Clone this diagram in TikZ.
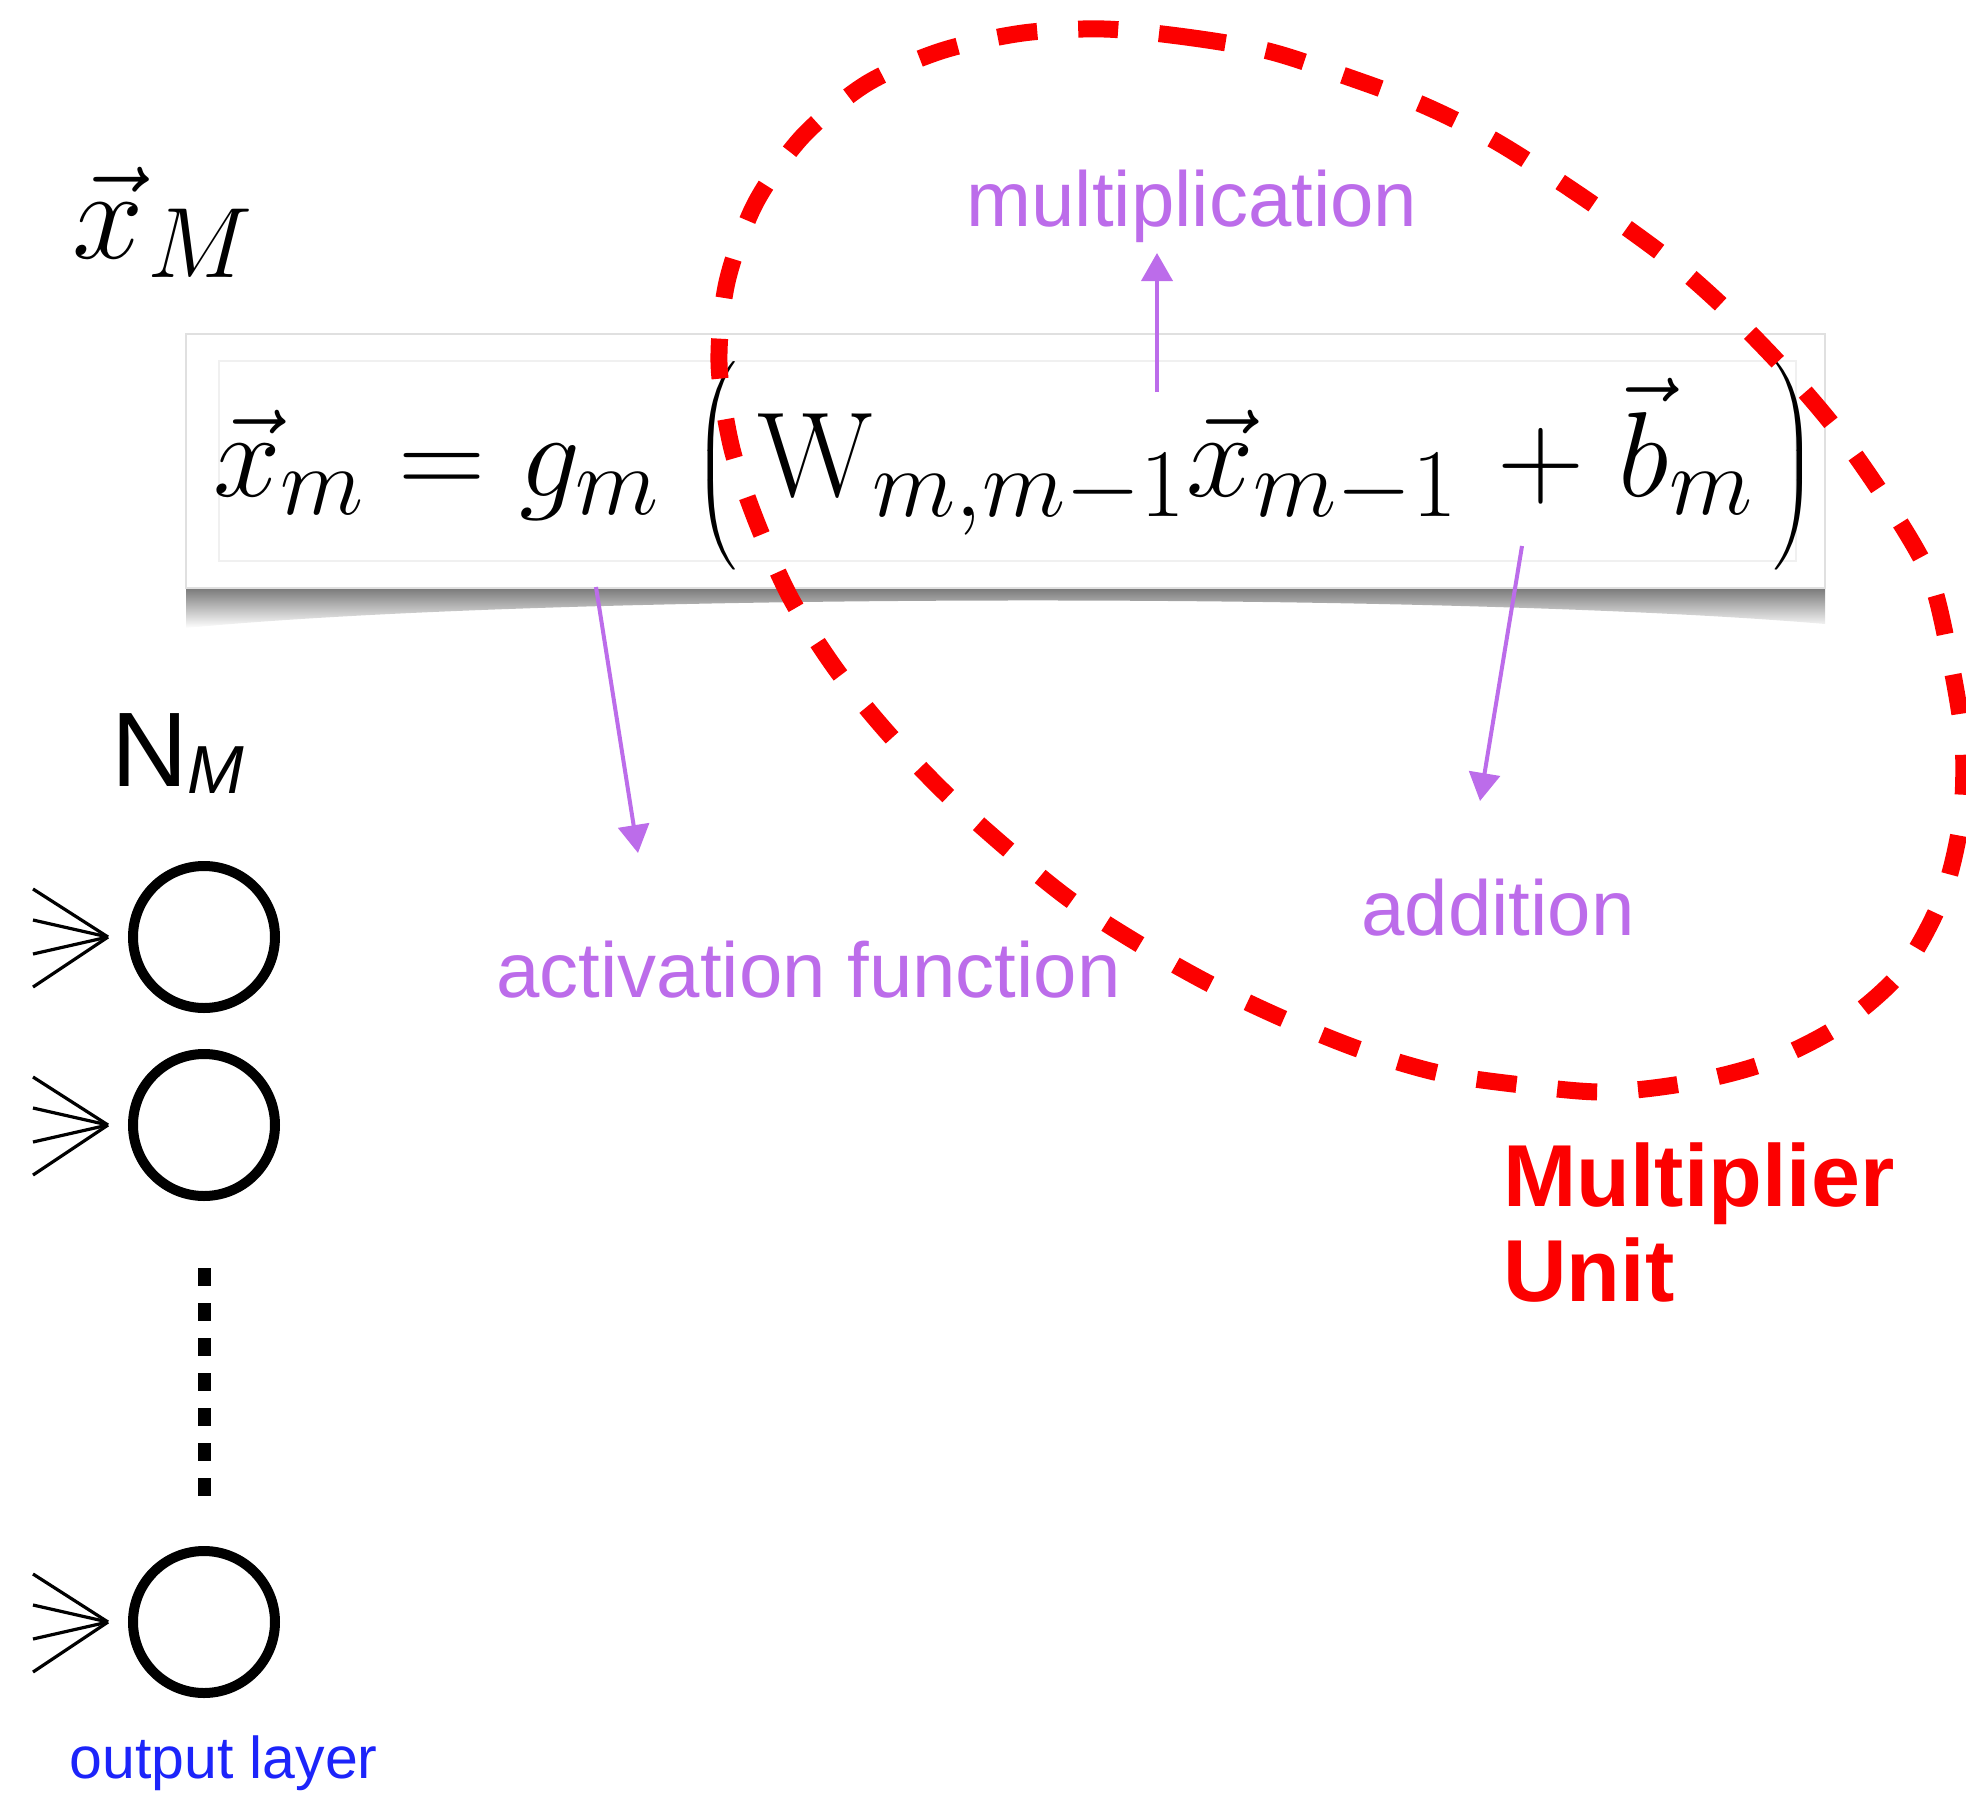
\RequirePackage{fix-cm}
\documentclass[tikz,border=0pt]{standalone}
\usepackage{amsmath}
\usepackage{fontspec}
\usepackage{tikz}
\usetikzlibrary{arrows.meta}
\newfontfamily\labelfont{Liberation Sans}
\DeclareMathSizes{60.5}{60.5}{48.5}{39}
\definecolor{opcolor}{RGB}{188,108,234}
\definecolor{unitred}{RGB}{252,0,0}
\definecolor{layerblue}{RGB}{28,36,250}

\tikzset{
  neuron/.style={circle,draw=black,line width=5pt,minimum size=71pt,inner sep=0pt},
  fanline/.style={black,line width=1.6pt},
  oplabel/.style={anchor=base west,inner sep=0pt,text=opcolor,font=\labelfont\fontsize{39}{40}\selectfont},
  oparrow/.style={draw=opcolor,line width=2pt,-{Triangle[length=14pt,width=15.5pt]}},
  unitloop/.style={draw=unitred,line width=8.5pt,dash pattern=on 20pt off 20.5pt},
  unittext/.style={anchor=base west,inner sep=0pt,text=unitred,font=\labelfont\bfseries\fontsize{44}{48}\selectfont},
}

\begin{document}
\begin{tikzpicture}[x=0.5pt,y=-0.5pt]
\useasboundingbox (0,0) rectangle (1966,1793);

% formula card and its shadow
\shade[top color=black!55,bottom color=white] (186,586) -- (1825,586) -- (1825,624) .. controls (1450,592) and (560,592) .. (186,628) -- cycle;
\filldraw[fill=white,draw=black!12,line width=1pt] (186,334) rectangle (1825,588);
\draw[black!6,line width=1pt] (219,361) rectangle (1796,561);
\node[anchor=base west,inner sep=0pt,font=\fontsize{60.5}{72}\selectfont] (eq) at (213,496)
  {$\vec{x}_m = g_m \;\Big(\,\mathrm{W}_{m,m-1}\vec{x}_{m-1} \mkern2mu+\mkern1mu \vec{b}_m\,\Big)$};

\node[anchor=base west,inner sep=0pt] (xM) at (72,258)
  {{\fontsize{64}{72}\selectfont$\vec{x}$}\kern2pt\raisebox{-9.5pt}{\fontsize{50}{52}\selectfont$M$}};

% output layer
\node[anchor=base west,inner sep=0pt] (NM) at (111,786)
  {\labelfont\fontsize{53}{54}\selectfont N\raisebox{-3.5pt}{\fontsize{34}{34}\selectfont\itshape M}};
\foreach \n/\y in {1/937,2/1125,3/1622}{
  \node[neuron] (n\n) at (204,\y) {};
  \coordinate (f\n) at (108,\y);
  \foreach \d in {-48,-17,17,50}
    \draw[fanline] (33,\y+\d) -- (f\n);
}
\draw[black,line width=6.5pt,dash pattern=on 9pt off 8.5pt,shorten <=33.5pt,shorten >=24pt] (n2.south) -- (n3.north);
\node[anchor=base west,inner sep=0pt,text=layerblue,font=\labelfont\fontsize{29.5}{30}\selectfont] (outl) at (69,1778) {output layer};

% operations
\node[oplabel] (mult) at (966,227) {multiplication};
\node[oplabel] (act) at (496,997) {activation function};
\node[oplabel] (add) at (1361,935) {addition};
\coordinate (multfrom) at (1157,392);
\coordinate (multto) at (1157,253);
\coordinate (actfrom) at (596,587);
\coordinate (actto) at (638,853);
\coordinate (addfrom) at (1522,546);
\coordinate (addto) at (1480,801);
\draw[oparrow] (multfrom) -- (multto);
\draw[oparrow] (actfrom) -- (actto);
\draw[oparrow] (addfrom) -- (addto);

% multiplier unit
\draw[unitloop] plot[smooth cycle] coordinates {(1104,29) (1186,37) (1268,51) (1345,76) (1423,105) (1497,142) (1584,198) (1670,260) (1732,315) (1790,375) (1839,433) (1889,505) (1930,577) (1950,659) (1963,741) (1961,820) (1942,898) (1901,972) (1839,1026) (1765,1063) (1687,1083) (1604,1092) (1522,1085) (1439,1073) (1361,1050) (1284,1019) (1210,984) (1139,944) (1069,899) (1004,846) (943,791) (886,731) (835,668) (790,597) (755,518) (731,445) (719,363) (727,282) (755,204) (802,137) (866,84) (941,51) (1023,33)};
\node[unittext] (unit1) at (1503,1206) {Multiplier};
\node[unittext] (unit2) at (1503,1301) {Unit};
\end{tikzpicture}
\end{document}
